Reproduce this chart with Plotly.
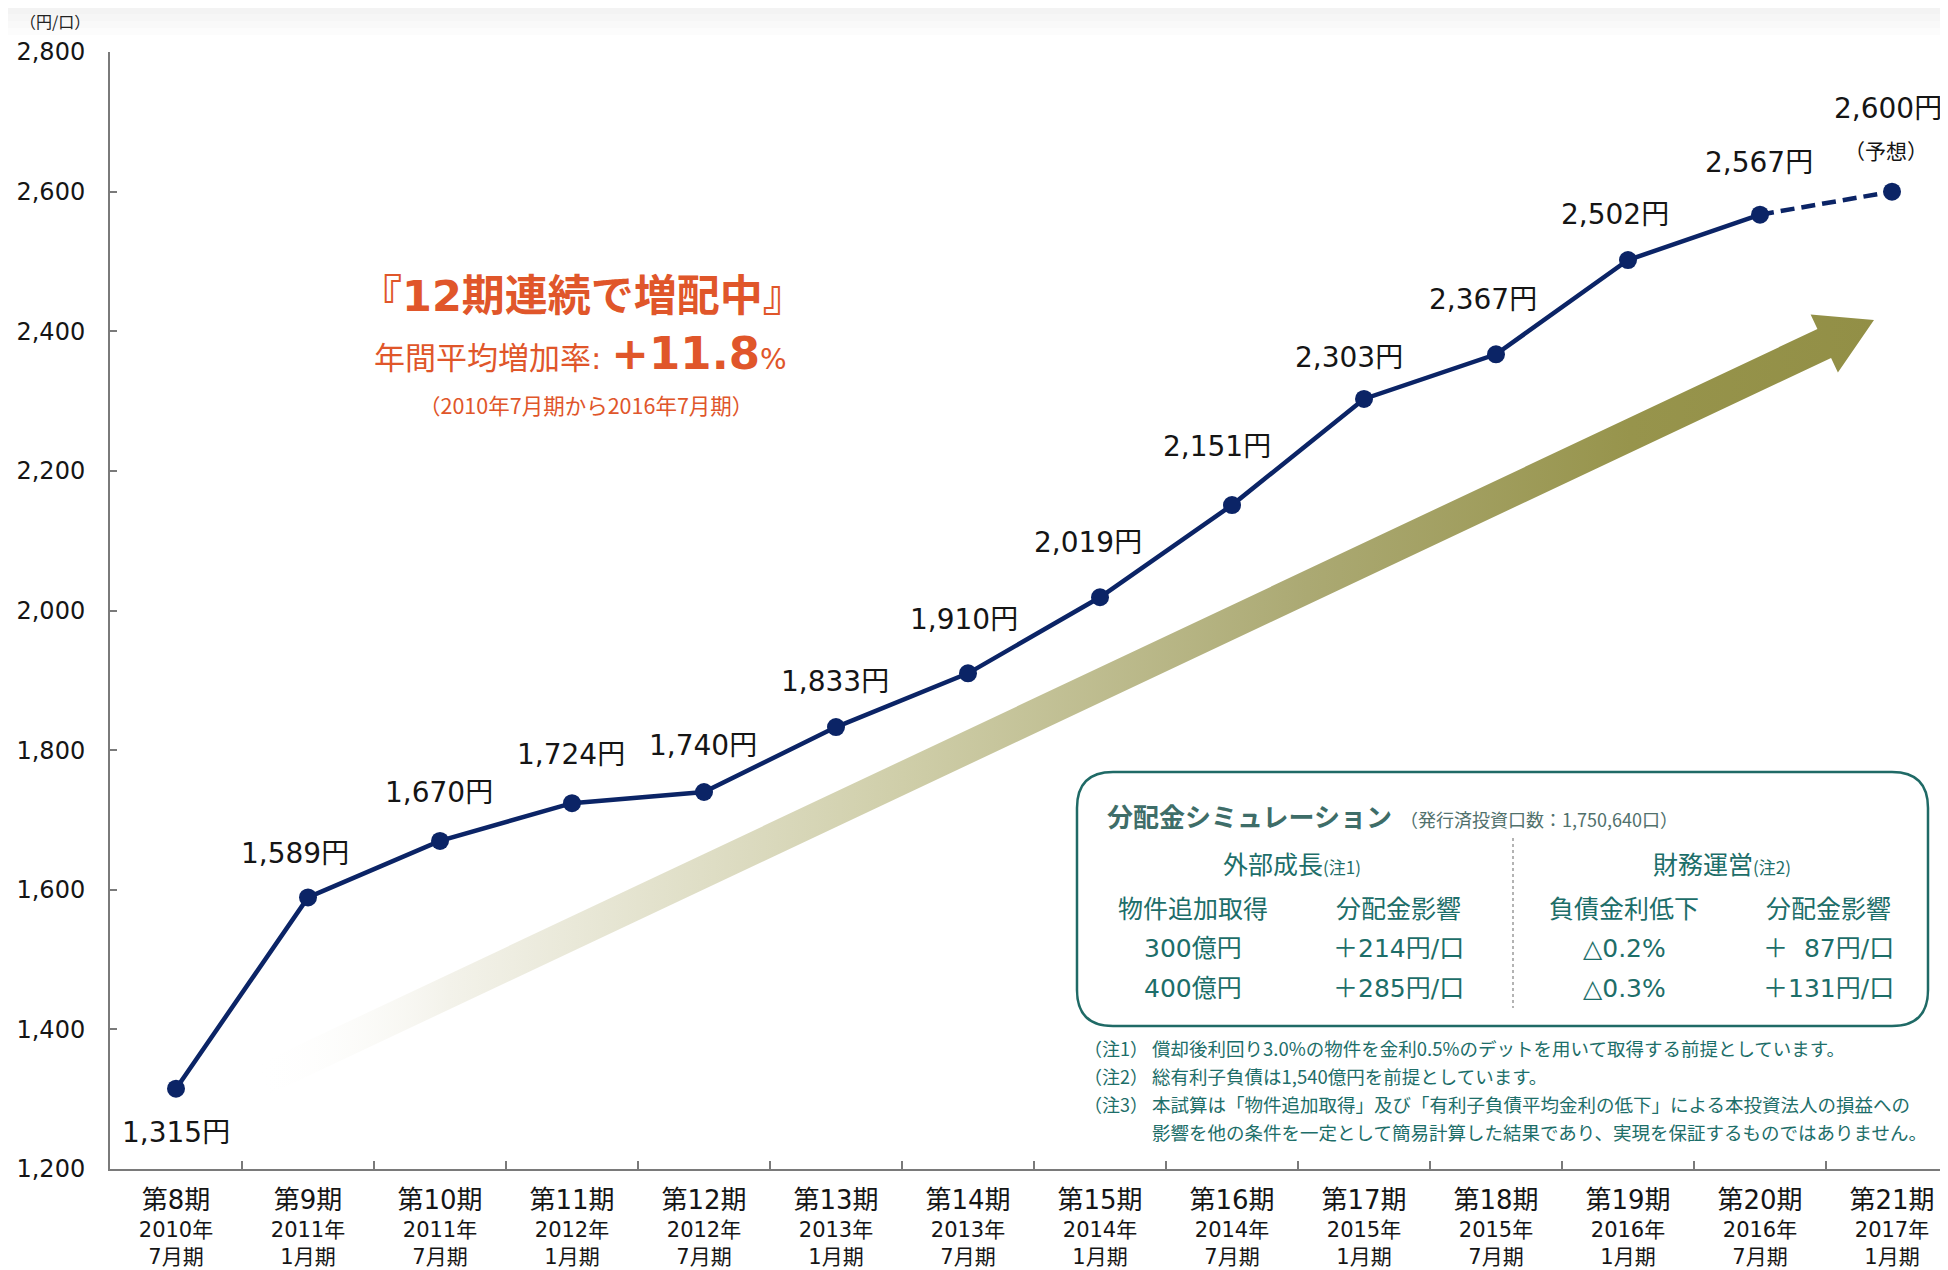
import math
import plotly.graph_objects as go

# ---- data ----
periods = ["第8期", "第9期", "第10期", "第11期", "第12期", "第13期", "第14期",
           "第15期", "第16期", "第17期", "第18期", "第19期", "第20期", "第21期"]
years = ["2010年", "2011年", "2011年", "2012年", "2012年", "2013年", "2013年",
         "2014年", "2014年", "2015年", "2015年", "2016年", "2016年", "2017年"]
months = ["7月期", "1月期", "7月期", "1月期", "7月期", "1月期", "7月期",
          "1月期", "7月期", "1月期", "7月期", "1月期", "7月期", "1月期"]
dividends = [1315, 1589, 1670, 1724, 1740, 1833, 1910, 2019, 2151, 2303, 2367, 2502, 2567, 2600]
forecast_from = 12  # last actual index; the next point is the forecast

y_ticks = [1200, 1400, 1600, 1800, 2000, 2200, 2400, 2600, 2800]

sim_groups = ["外部成長", "財務運営"]
sim_headers = ["物件追加取得", "分配金影響", "負債金利低下", "分配金影響"]
sim_rows = [["300億円", "＋214円/口", "△0.2%", "＋\u200787円/口"],
            ["400億円", "＋285円/口", "△0.3%", "＋131円/口"]]
notes = [("（注1）", "償却後利回り3.0%の物件を金利0.5%のデットを用いて取得する前提としています。"),
         ("（注2）", "総有利子負債は1,540億円を前提としています。"),
         ("（注3）", "本試算は「物件追加取得」及び「有利子負債平均金利の低下」による本投資法人の損益への"),
         ("", "影響を他の条件を一定として簡易計算した結果であり、実現を保証するものではありません。")]

# ---- layout constants (pixels of the page) ----
OFF = 8                 # page body margin
FW, FH = 1940, 1262     # figure size
X0, CAT_W = 110, 132
Y_TOP, Y_BOT = 52, 1169
X_MAX = -0.5 + (1948 - X0) / CAT_W

FONT = "DejaVu Sans, Noto Sans CJK JP"
JP = "Noto Sans CJK JP, DejaVu Sans"
NAVY = "#0b2466"
ORANGE = "#e0562a"
TEAL = "#1d6e69"


def px(x):
    return (x - OFF) / FW


def py(y):
    return 1 - (y - OFF) / FH


def xd(x):
    return -0.5 + (x - X0) / CAT_W


def yd(y):
    return 1200 + (Y_BOT - y) / (Y_BOT - Y_TOP) * 1600


def note(x, y, text, size, color, family=JP, xanchor="center"):
    return dict(x=px(x), y=py(y), xref="paper", yref="paper", showarrow=False,
                xanchor=xanchor, yanchor="middle", text=text,
                font=dict(family=family, size=size, color=color))


fig = go.Figure()

# growth arrow (decoration), built in page pixels
tail, tip = (262, 1080), (1874, 320)
shaft_hw, head_hw, head_len = 16, 32, 55
dx, dy = tip[0] - tail[0], tip[1] - tail[1]
L = math.hypot(dx, dy)
ux, uy = dx / L, dy / L
nx, ny = -uy, ux
bx, by = tip[0] - ux * head_len, tip[1] - uy * head_len
pts = [(tail[0] + nx * shaft_hw, tail[1] + ny * shaft_hw),
       (bx + nx * shaft_hw, by + ny * shaft_hw),
       (bx + nx * head_hw, by + ny * head_hw),
       tip,
       (bx - nx * head_hw, by - ny * head_hw),
       (bx - nx * shaft_hw, by - ny * shaft_hw),
       (tail[0] - nx * shaft_hw, tail[1] - ny * shaft_hw)]
pts.append(pts[0])
fig.add_trace(go.Scatter(
    x=[xd(p[0]) for p in pts], y=[yd(p[1]) for p in pts],
    mode="lines", line=dict(width=0), fill="toself",
    fillgradient=dict(type="horizontal",
                      colorscale=[[0, "rgba(255,255,255,0)"], [0.12, "#f3f2ea"],
                                  [0.4, "#cfcea9"], [0.65, "#aba973"],
                                  [0.85, "#97944c"], [1, "#928f46"]]),
    hoverinfo="skip", showlegend=False))

# dividend line
n_act = forecast_from + 1
fig.add_trace(go.Scatter(
    x=list(range(forecast_from, len(dividends))), y=dividends[forecast_from:],
    mode="lines", line=dict(color=NAVY, width=4.5, dash="14px,7px"),
    showlegend=False, hoverinfo="skip"))
fig.add_trace(go.Scatter(
    x=list(range(n_act)), y=dividends[:n_act],
    mode="lines", line=dict(color=NAVY, width=4.5),
    showlegend=False, hoverinfo="skip"))
fig.add_trace(go.Scatter(
    x=list(range(len(dividends))), y=dividends,
    mode="markers", marker=dict(color=NAVY, size=18),
    cliponaxis=False, showlegend=False, hoverinfo="skip"))

# value labels
label_shift = [(0, -44), (-13, 44), (-1, 48), (-1, 49), (-1, 47), (-1, 46), (-4, 54),
               (-12, 55), (-15, 59), (-15, 41), (-13, 55), (-13, 46), (-1, 52), (-4, 83)]
annotations = []
for i, v in enumerate(dividends):
    sx, sy = label_shift[i]
    annotations.append(dict(x=i, y=v, xref="x", yref="y", text=f"{v:,}円",
                            showarrow=False, xshift=sx, yshift=sy,
                            xanchor="center", yanchor="middle",
                            font=dict(family=FONT, size=28, color="#151515")))
annotations.append(dict(x=len(dividends) - 1, y=dividends[-1], xref="x", yref="y",
                        text="（予想）", showarrow=False, xshift=-6, yshift=42,
                        xanchor="center", yanchor="middle",
                        font=dict(family=JP, size=21, color="#151515")))

# unit label
annotations.append(note(55, 21, "（円/口）", 16, "#222"))

# orange callout
annotations += [
    note(582, 296, "<b>『12期連続で増配中』</b>", 43, ORANGE, FONT),
    note(580, 353, "年間平均増加率: <b><span style='font-size:45px'>+11.8</span></b>"
                   "<span style='font-size:28px'>%</span>", 31, ORANGE, FONT),
    note(586, 405, "（2010年7月期から2016年7月期）", 21.5, ORANGE),
]

# simulation box texts
annotations += [
    note(1105, 815, "<b>分配金シミュレーション</b>", 26, "#3e6d68", xanchor="left"),
    note(1398, 819, "（発行済投資口数：1,750,640口）", 18, "#51716c", xanchor="left"),
]
group_x = [1292, 1722]
col_x = [1193, 1398, 1624, 1828]
for g, gx, tag in zip(sim_groups, group_x, ["(注1)", "(注2)"]):
    annotations.append(note(gx, 863, f"{g}<span style='font-size:17px'>{tag}</span>", 25, TEAL))
for h, cx in zip(sim_headers, col_x):
    annotations.append(note(cx, 907, h, 25, TEAL))
for r, ry in zip(sim_rows, [948, 988]):
    for cell, cx in zip(r, col_x):
        annotations.append(note(cx, ry, cell, 25, TEAL, FONT))

for (tag, body), ny_ in zip(notes, [1048, 1076, 1104, 1132]):
    if tag:
        annotations.append(note(1082, ny_, tag, 18, TEAL, xanchor="left"))
    annotations.append(note(1150, ny_, body, 18.5, TEAL, xanchor="left"))


def rrect(x0, y0, x1, y1, r):
    p = lambda x, y: f"{px(x):.5f},{py(y):.5f}"
    return (f"M {p(x0 + r, y0)} L {p(x1 - r, y0)} Q {p(x1, y0)} {p(x1, y0 + r)} "
            f"L {p(x1, y1 - r)} Q {p(x1, y1)} {p(x1 - r, y1)} L {p(x0 + r, y1)} "
            f"Q {p(x0, y1)} {p(x0, y1 - r)} L {p(x0, y0 + r)} Q {p(x0, y0)} {p(x0 + r, y0)} Z")


shapes = []
# faint grey strip at the top of the page
for k, c in enumerate(["#f0f0f0", "#f3f3f3", "#f6f6f6", "#f9f9f9", "#fcfcfc"]):
    shapes.append(dict(type="rect", xref="paper", yref="paper", x0=0, x1=1,
                       y0=py(7 * (k + 1)), y1=py(7 * k), fillcolor=c, line_width=0, layer="below"))
shapes.append(dict(type="path", xref="paper", yref="paper", path=rrect(1077, 772, 1928, 1026, 36),
                   fillcolor="white", line=dict(color="#1f6a66", width=2.5), layer="above"))
shapes.append(dict(type="line", xref="paper", yref="paper", x0=px(1513), x1=px(1513),
                   y0=py(838), y1=py(1008), line=dict(color="#9a9a9a", width=1.5, dash="dot"),
                   layer="above"))

tick_text = [f"<span style='font-size:26px'>{p}</span><br>{y}<br>{m}"
             for p, y, m in zip(periods, years, months)]

fig.update_layout(
    width=FW, height=FH,
    margin=dict(l=0, r=0, t=0, b=0, autoexpand=False),
    paper_bgcolor="white", plot_bgcolor="white",
    showlegend=False,
    annotations=annotations,
    shapes=shapes,
    xaxis=dict(domain=[px(X0), 1], range=[-0.5, X_MAX], tickmode="array",
               tickvals=list(range(len(periods))), ticktext=tick_text, ticks="",
               automargin=False,
               showgrid=False, zeroline=False, showline=True, linecolor="#7a7a7a", linewidth=2,
               tickfont=dict(family=FONT, size=21, color="#151515"), ticklabelstandoff=13,
               minor=dict(tickmode="array", tickvals=[i + 0.5 for i in range(len(periods))],
                          ticks="inside", ticklen=8, tickcolor="#7a7a7a", tickwidth=1.5)),
    yaxis=dict(domain=[py(Y_BOT), py(Y_TOP)], range=[1200, 2800], tickmode="array",
               tickvals=y_ticks, tickformat=",d", ticks="inside", ticklen=7, tickcolor="#7a7a7a",
               automargin=False,
               tickwidth=1.5, showgrid=False, zeroline=False, showline=True, linecolor="#7a7a7a",
               linewidth=2, tickfont=dict(family=FONT, size=24, color="#151515"),
               ticklabelstandoff=18),
)

fig.write_html("out.html")
